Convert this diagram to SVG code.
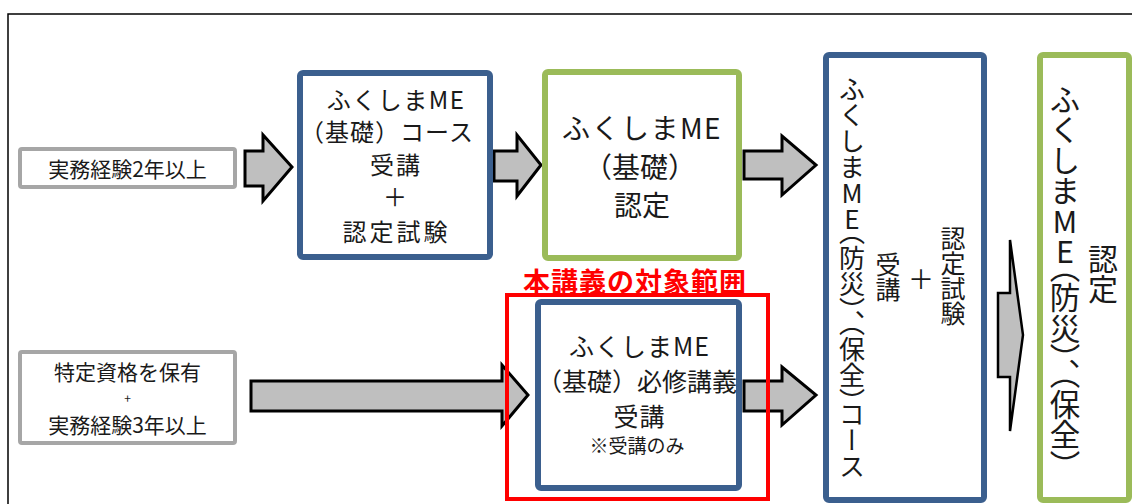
<svg xmlns="http://www.w3.org/2000/svg" width="1132" height="504" viewBox="0 0 1132 504">
<style>
text{font-family:"Noto Sans CJK JP","Noto Sans",sans-serif;fill:#1a1a1a}
.h{text-anchor:middle;dominant-baseline:central}
.m{text-anchor:middle}
.v{writing-mode:vertical-rl;text-orientation:upright;font-feature-settings:"vhal" 1}
.gray{fill:#fff;stroke:#a6a6a6;stroke-width:4}
.blue{fill:#fff;stroke:#3b5f8e;stroke-width:6}
.green{fill:#fff;stroke:#9bbb59;stroke-width:6}
.arrow{fill:#bfbfbf;stroke:#000;stroke-width:3;stroke-linejoin:miter}
.red{fill:none;stroke:#ff0000;stroke-width:4}
</style>
<rect x="0" y="0" width="1132" height="504" fill="#fff"/>
<path d="M8,510 V14 H1140" fill="none" stroke="#000" stroke-width="1.5"/>
<g id="connectors">
<polygon class="arrow" points="245,151 263,151 263,135 292,167 263,201 263,186 245,186"/>
<polygon class="arrow" points="494,151 517,151 517,135 541,165 517,196 517,181 494,181"/>
<polygon class="arrow" points="744,151 782,151 782,136 816,165 782,195 782,179 744,179"/>
<polygon class="arrow" points="251,381 502,381 502,365 528,395 502,426 502,411 251,411"/>
<polygon class="arrow" points="744,381 782,381 782,367 816,395 782,425 782,411 744,411"/>
<polygon class="arrow" points="998,293 1010,293 1010,240 1023,335 1010,431 1010,377 998,377" style="stroke-width:2.5"/>
</g>
<g id="n-exp2">
<rect class="gray" x="20" y="149" width="215" height="38" rx="2"/>
<text class="h" x="127.5" y="168" font-size="21">実務経験2年以上</text>
</g>
<g id="n-basic-course">
<rect class="blue" x="300" y="73" width="190" height="184" rx="3"/>
<text class="m" font-size="24"><tspan x="396" y="108.5" letter-spacing="1.5">ふくしまME</tspan><tspan x="387" y="141" letter-spacing="1">（基礎）コース</tspan><tspan x="396" y="173.5" letter-spacing="2">受講</tspan><tspan x="395" y="206">＋</tspan><tspan x="396.5" y="241" letter-spacing="3">認定試験</tspan></text>
</g>
<g id="n-basic-cert">
<rect class="green" x="545" y="72" width="194" height="186" rx="3"/>
<text class="m" font-size="28"><tspan x="642" y="139" letter-spacing="1.5">ふくしまME</tspan><tspan x="640" y="178">（基礎）</tspan><tspan x="642" y="216">認定</tspan></text>
</g>
<g id="n-qual">
<rect class="gray" x="20" y="352" width="215" height="91" rx="2"/>
<text class="m" font-size="21"><tspan x="127.5" y="380">特定資格を保有</tspan><tspan x="127.5" y="402.5" font-size="12">+</tspan><tspan x="127.5" y="433">実務経験3年以上</tspan></text>
</g>
<g id="n-required">
<rect class="blue" x="538" y="302" width="201" height="186" rx="3"/>
<text class="m" font-size="25"><tspan x="639.5" y="355.5" letter-spacing="1">ふくしまME</tspan><tspan x="637" y="390.5">（基礎）必修講義</tspan><tspan x="639.5" y="425.5" letter-spacing="1">受講</tspan><tspan x="637" y="452.8" font-size="19">※受講のみ</tspan></text>
</g>
<g id="n-scope">
<rect class="red" x="507" y="295" width="261" height="204"/>
<text class="h" x="635" y="280" font-size="27" font-weight="bold" letter-spacing="1" style="fill:#ff0000">本講義の対象範囲</text>
</g>
<g id="n-advanced-course">
<rect class="blue" x="826" y="55" width="158" height="445" rx="3"/>
<text class="v" x="852" y="76" font-size="26">ふくしまME（防災）、（保全）コース</text>
<text class="v" x="888" y="252" font-size="25">受講</text>
<text class="h" x="921" y="277" font-size="26">＋</text>
<text class="v" x="953" y="226" font-size="25">認定試験</text>
</g>
<g id="n-advanced-cert">
<rect class="green" x="1040" y="55" width="89" height="445" rx="3"/>
<text class="v" x="1065" y="84" font-size="30.5">ふくしまME（防災）、（保全）</text>
<text class="v" x="1103" y="244" font-size="30">認定</text>
</g>
</svg>
